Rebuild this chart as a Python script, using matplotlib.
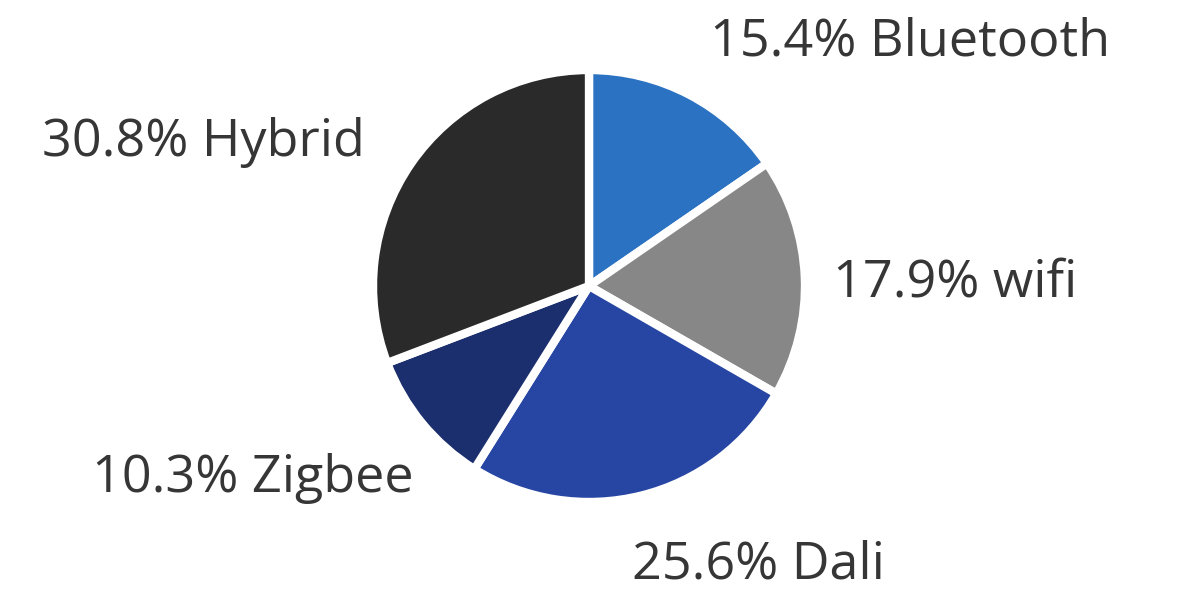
import matplotlib
matplotlib.use("Agg")
import matplotlib.pyplot as plt

categories = ["Bluetooth", "wifi", "Dali", "Zigbee", "Hybrid"]
shares = [15.4, 17.9, 25.6, 10.3, 30.8]
colors = ["#2b72c2", "#878787", "#2746a3", "#1b2f6e", "#2b2a2a"]
# label anchor positions (pixels, left edge, vertical center)
label_pos = [(710, 42), (833, 283), (632, 565), (92, 478), (42, 142)]

W, H = 1179, 592
fig = plt.figure(figsize=(W / 100, H / 100), dpi=100)
ax = fig.add_axes([0, 0, 1, 1])
ax.set_xlim(0, W)
ax.set_ylim(0, H)
ax.set_aspect("equal")
ax.axis("off")

ax.pie(shares, colors=colors, startangle=90, counterclock=False,
       center=(589, H - 286), radius=216,
       wedgeprops=dict(edgecolor="white", linewidth=6))
ax.set_xlim(0, W)
ax.set_ylim(0, H)

for cat, v, (x, y) in zip(categories, shares, label_pos):
    ax.text(x, H - y, f"{v:.1f}% {cat}", ha="left", va="center",
            fontsize=37.5, color="#363636", family=["Open Sans", "DejaVu Sans"])

fig.savefig("out.png", dpi=100)
